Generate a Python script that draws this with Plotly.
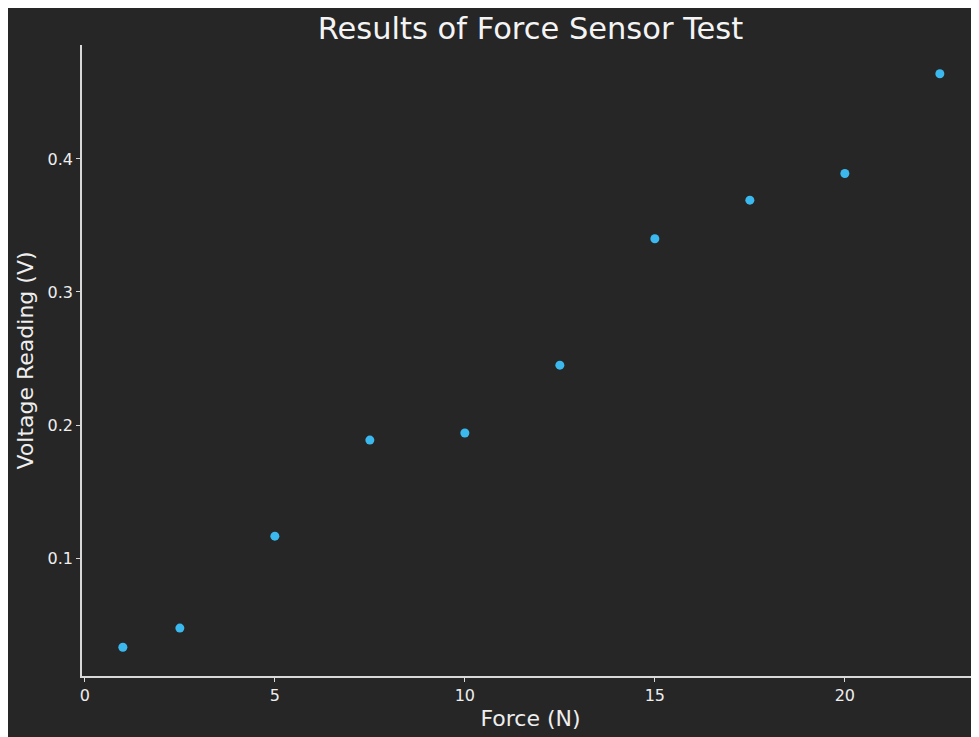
import plotly.graph_objects as go

force = [1, 2.5, 5, 7.5, 10, 12.5, 15, 17.5, 20, 22.5]
voltage = [0.033, 0.0474, 0.1165, 0.1887, 0.194, 0.245, 0.340, 0.369, 0.389, 0.464]
x_ticks = [0, 5, 10, 15, 20]
y_ticks = [0.1, 0.2, 0.3, 0.4]

BG = "#262626"
AX = "#d8d8d8"
TXT = "#eeeeee"
FONT = "DejaVu Sans"

fig = go.Figure()
fig.add_trace(go.Scatter(
    x=force, y=voltage, mode="markers",
    marker=dict(color="#3bb9ee", size=9, line=dict(width=0)),
    showlegend=False,
))

fig.update_layout(
    width=971, height=729,
    paper_bgcolor=BG, plot_bgcolor=BG,
    margin=dict(l=74, r=0, t=37, b=61),
    font=dict(family=FONT, color=TXT, size=16),
    title=dict(text="Results of Force Sensor Test", x=0.5, xref="paper",
               y=0.972, yref="container", yanchor="middle", pad=dict(t=0, b=0),
               font=dict(size=30.5, color="#f4f4f4", family=FONT)),
    xaxis=dict(
        range=[-0.075, 23.53], tickvals=x_ticks, ticktext=[str(v) for v in x_ticks],
        showgrid=False, zeroline=False, showline=True, linecolor=AX, linewidth=1.5,
        ticks="outside", ticklen=4, tickwidth=1, tickcolor=AX,
        tickfont=dict(size=16, color=TXT),
        title=dict(text="Force (N)", font=dict(size=22, color=TXT), standoff=7),
    ),
    yaxis=dict(
        range=[0.0114, 0.4856], tickvals=y_ticks, ticktext=[f"{v:.1f}" for v in y_ticks],
        showgrid=False, zeroline=False, showline=True, linecolor=AX, linewidth=1.5,
        ticks="outside", ticklen=4, tickwidth=1, tickcolor=AX,
        tickfont=dict(size=16, color=TXT),
        title=dict(text="Voltage Reading (V)", font=dict(size=22, color=TXT), standoff=8),
    ),
)

fig.write_html("out.html")
